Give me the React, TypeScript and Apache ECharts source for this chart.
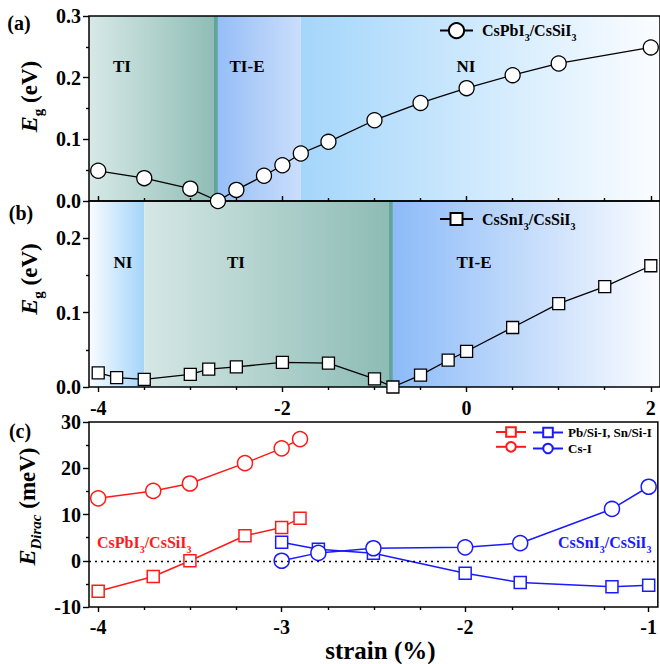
import React, { useEffect, useRef } from 'react';
import * as echarts from 'echarts';

const FONT = '"Liberation Serif", "Times New Roman", Times, serif';

// ---------- Panel (a): CsPbI3/CsSiI3 band gap ----------
const strainA = [-4, -3.5, -3, -2.7, -2.5, -2.2, -2, -1.8, -1.5, -1, -0.5, 0, 0.5, 1, 2];
const gapA = [0.049, 0.037, 0.02, 0, 0.018, 0.041, 0.058, 0.077, 0.096, 0.131, 0.159, 0.183, 0.204, 0.223, 0.249];
const phaseNamesA = ['TI', 'TI-E', 'NI'];
const phaseBoundsA = [-4.1, -2.7, -1.8, 2.1];

// ---------- Panel (b): CsSnI3/CsSiI3 band gap ----------
const strainB = [-4, -3.8, -3.5, -3, -2.8, -2.5, -2, -1.5, -1, -0.8, -0.5, -0.2, 0, 0.5, 1, 1.5, 2];
const gapB = [0.019, 0.0125, 0.0103, 0.017, 0.024, 0.027, 0.033, 0.032, 0.011, 0, 0.016, 0.036, 0.048, 0.08, 0.112, 0.135, 0.163];
const phaseNamesB = ['NI', 'TI', 'TI-E'];
const phaseBoundsB = [-4.1, -3.5, -0.8, 2.1];

// ---------- Panel (c): Dirac point energies ----------
const strainPb = [-4, -3.7, -3.5, -3.2, -3.0, -2.9];
const pbSiI = [-6.6, -3.4, 0, 5.4, 7.2, 9.2];
const pbCsI = [13.5, 15.1, 16.7, 21.1, 24.3, 26.3];
const strainSn = [-3, -2.8, -2.5, -2, -1.7, -1.2, -1];
const snSiI = [4.0, 2.5, 1.6, -2.7, -4.7, -5.6, -5.3];
const snCsI = [0, 1.7, 2.7, 2.9, 3.8, 11.2, 16.0];

// ---------- Axes ----------
const xRangeAB = [-4.1, 2.1];
const xRangeC = [-4.05, -0.95];
const xMajorAB = [-4, -2, 0, 2];
const xMinorAB = [-3.5, -3, -2.5, -1.5, -1, -0.5, 0.5, 1, 1.5];
const xMajorC = [-4, -3, -2, -1];
const xMinorC = [-3.75, -3.5, -3.25, -2.75, -2.5, -2.25, -1.75, -1.5, -1.25];
const yRangeA = [0, 0.3];
const yRangeB = [0, 0.25];
const yMajorB = [0, 0.1, 0.2];
const yMinorB = [0.05, 0.15];
const yRangeC = [-10, 30];

const nameA = 'CsPbI3/CsSiI3';
const nameB = 'CsSnI3/CsSiI3';
const nameRedSq = 'CsPbI3 Pb/Si-I';
const nameRedCi = 'CsPbI3 Cs-I';
const nameBlueSq = 'CsSnI3 Sn/Si-I';
const nameBlueCi = 'CsSnI3 Cs-I';
const legendTextC = ['Pb/Si-I, Sn/Si-I', 'Cs-I'];

// ---------- Styles ----------
const RED = '#ff1a1a';
const BLUE = '#1a1aff';
const phaseStyle: Record<string, string[]> = {
  'a-TI': ['#d7e9e7', '#8fbdb6', '#62a499'],
  'a-TI-E': ['#96bef7', '#cadefb'],
  'a-NI': ['#a4d6fb', '#fbfdff'],
  'b-NI': ['#f9fcff', '#a4d4fa'],
  'b-TI': ['#d5e7e5', '#8dbcb5', '#62a499'],
  'b-TI-E': ['#8cbbf8', '#fbfcff'],
};

const PX_PER_UNIT_AB = 572 / (xRangeAB[1] - xRangeAB[0]);

function gradient(key: string, widthUnits: number) {
  const s = phaseStyle[key];
  if (s.length === 3) {
    const edge = 1 - 3.5 / (widthUnits * PX_PER_UNIT_AB);
    return new echarts.graphic.LinearGradient(0, 0, 1, 0, [
      { offset: 0, color: s[0] },
      { offset: edge, color: s[1] },
      { offset: edge, color: s[2] },
      { offset: 1, color: s[2] },
    ]);
  }
  return new echarts.graphic.LinearGradient(0, 0, 1, 0, [
    { offset: 0, color: s[0] },
    { offset: 1, color: s[1] },
  ]);
}

function phaseAreas(panel: string, names: string[], bounds: number[]) {
  return names.map((n, i) => [
    { xAxis: bounds[i], itemStyle: { color: gradient(`${panel}-${n}`, bounds[i + 1] - bounds[i]) } },
    { xAxis: bounds[i + 1] },
  ]);
}

function chemRich(text: string) {
  const parts = text.match(/\d+|\D+/g) || [];
  return parts.map((p) => (/^\d+$/.test(p) ? `{s|${p}}` : `{n|${p}}`)).join('');
}

function richStyles(size: number, color: string, subSize: number, lh: number) {
  return {
    n: { fontFamily: FONT, fontWeight: 'bold', fontSize: size, color, fill: color },
    s: {
      fontFamily: FONT, fontWeight: 'bold', fontSize: subSize, color, fill: color,
      verticalAlign: 'bottom', lineHeight: lh,
    },
  };
}

const tickLabel = { fontFamily: FONT, fontWeight: 'bold', fontSize: 20, color: '#000' };
const tickLine = { color: '#000', width: 1.4 };

function yName(main: string, sub: string, unit: string, subItalic: boolean, shift: number) {
  return {
    name: `{e|${main}}{s|${sub}}{t| ${unit}}`,
    nameLocation: 'middle',
    nameRotate: 90,
    nameGap: 38,
    nameTextStyle: {
      fontFamily: FONT, fontWeight: 'bold', fontSize: 23, color: '#000',
      padding: [0, 0, 0, shift],
      rich: {
        e: { fontFamily: FONT, fontWeight: 'bold', fontStyle: 'italic', fontSize: 24, color: '#000' },
        s: {
          fontFamily: FONT, fontWeight: 'bold', fontStyle: subItalic ? 'italic' : 'normal',
          fontSize: 15, color: '#000', verticalAlign: 'bottom', lineHeight: 32,
        },
        t: { fontFamily: FONT, fontWeight: 'bold', fontSize: 23, color: '#000' },
      },
    },
  };
}

function buildOption(): any {
  const gridBox = { left: 89, width: 572 };
  const frame = { ...gridBox, show: true, borderColor: '#000', borderWidth: 1.5, backgroundColor: 'transparent', z: 2 };
  const noLine = { show: false, onZero: false };
  const xBase = { type: 'value', axisLine: noLine, splitLine: { show: false }, z: 2 };
  const yBase = { type: 'value', axisLine: noLine, splitLine: { show: false }, z: 2 };

  const pts = (xs: number[], ys: number[]) => xs.map((x, i) => [x, ys[i]]);

  const labelText = (text: string, x: number, y: number, size = 17, color = '#000', align = 'center') => ({
    type: 'text', x, y, z: 10, silent: true,
    style: {
      text, fill: color, fontFamily: FONT, fontWeight: 'bold', fontSize: size,
      align, verticalAlign: 'middle', textAlign: align, textVerticalAlign: 'middle',
    },
  });
  const chemText = (text: string, x: number, y: number, color: string) => ({
    type: 'text', x, y, z: 10, silent: true,
    style: {
      text: chemRich(text), fill: color, fontFamily: FONT, fontWeight: 'bold', fontSize: 16,
      align: 'left', verticalAlign: 'middle', textAlign: 'left', textVerticalAlign: 'middle',
      rich: richStyles(16, color, 10, 24),
    },
  });

  const regionLabelPosA = [[122, 66], [247, 66], [466, 66]];
  const regionLabelPosB = [[123, 262], [236, 262], [474, 262]];

  return {
    animation: false,
    backgroundColor: '#fff',
    grid: [
      { ...frame, top: 16, height: 185 },
      { ...frame, top: 201, height: 186 },
      { ...frame, top: 422, height: 185 },
      { ...gridBox, top: 16, height: 185, show: false },
      { ...gridBox, top: 201, height: 186, show: false },
      { ...gridBox, top: 422, height: 185, show: false },
    ],
    xAxis: [
      {
        ...xBase, gridIndex: 0, min: xRangeAB[0], max: xRangeAB[1],
        axisTick: { show: true, inside: true, length: 5, customValues: xMajorAB, lineStyle: tickLine },
        axisLabel: { show: false },
      },
      {
        ...xBase, gridIndex: 1, min: xRangeAB[0], max: xRangeAB[1],
        axisTick: { show: true, inside: false, length: 5, customValues: xMajorAB, lineStyle: tickLine },
        axisLabel: { ...tickLabel, margin: 11, customValues: xMajorAB },
      },
      {
        ...xBase, gridIndex: 2, min: xRangeC[0], max: xRangeC[1],
        axisTick: { show: true, inside: false, length: 5, customValues: xMajorC, lineStyle: tickLine },
        axisLabel: { ...tickLabel, margin: 10, customValues: xMajorC },
        name: 'strain (%)', nameLocation: 'middle', nameGap: 27,
        nameTextStyle: { fontFamily: FONT, fontWeight: 'bold', fontSize: 25, color: '#000', padding: [0, 0, 0, 14] },
      },
      {
        ...xBase, gridIndex: 3, min: xRangeAB[0], max: xRangeAB[1],
        axisTick: { show: true, inside: true, length: 3, customValues: xMinorAB, lineStyle: tickLine },
        axisLabel: { show: false },
      },
      {
        ...xBase, gridIndex: 4, min: xRangeAB[0], max: xRangeAB[1],
        axisTick: { show: true, inside: false, length: 3, customValues: xMinorAB, lineStyle: tickLine },
        axisLabel: { show: false },
      },
      {
        ...xBase, gridIndex: 5, min: xRangeC[0], max: xRangeC[1],
        axisTick: { show: true, inside: false, length: 3, customValues: xMinorC, lineStyle: tickLine },
        axisLabel: { show: false },
      },
    ],
    yAxis: [
      {
        ...yBase, gridIndex: 0, min: yRangeA[0], max: yRangeA[1], interval: 0.1,
        axisTick: { show: true, inside: false, length: 6, lineStyle: tickLine },
        minorTick: { show: true, splitNumber: 2, length: 3, lineStyle: tickLine },
        axisLabel: { ...tickLabel, margin: 8, formatter: (v: number) => v.toFixed(1) },
        ...yName('E', 'g', '(eV)', false, 24),
      },
      {
        ...yBase, gridIndex: 1, min: yRangeB[0], max: yRangeB[1],
        axisTick: { show: true, inside: false, length: 6, customValues: yMajorB, lineStyle: tickLine },
        axisLabel: { ...tickLabel, margin: 8, customValues: yMajorB, formatter: (v: number) => v.toFixed(1) },
        ...yName('E', 'g', '(eV)', false, 30),
      },
      {
        ...yBase, gridIndex: 2, min: yRangeC[0], max: yRangeC[1], interval: 10,
        axisTick: { show: true, inside: false, length: 6, lineStyle: tickLine },
        minorTick: { show: true, splitNumber: 2, length: 3, lineStyle: tickLine },
        axisLabel: { ...tickLabel, margin: 8 },
        ...yName('E', 'Dirac', '(meV)', true, 16),
      },
      { ...yBase, gridIndex: 3, show: false, min: 0, max: 1 },
      {
        ...yBase, gridIndex: 4, min: yRangeB[0], max: yRangeB[1],
        axisTick: { show: true, inside: false, length: 3, customValues: yMinorB, lineStyle: tickLine },
        axisLabel: { show: false },
      },
      { ...yBase, gridIndex: 5, show: false, min: 0, max: 1 },
    ],
    legend: [
      {
        data: [nameA], left: 439, top: 22, padding: 0, itemWidth: 33, itemHeight: 19,
        formatter: (n: string) => chemRich(n),
        textStyle: { color: '#000', fontFamily: FONT, fontWeight: 'bold', fontSize: 16, padding: [0, 0, 0, 4], rich: richStyles(16, '#000', 10, 24) },
      },
      {
        data: [nameB], left: 439, top: 211, padding: 0, itemWidth: 33, itemHeight: 15,
        formatter: (n: string) => chemRich(n),
        textStyle: { color: '#000', fontFamily: FONT, fontWeight: 'bold', fontSize: 16, padding: [0, 0, 0, 4], rich: richStyles(16, '#000', 10, 24) },
      },
      {
        data: [nameRedSq, nameRedCi], left: 495, top: 426, padding: 0, orient: 'vertical', itemGap: 3,
        itemWidth: 30, itemHeight: 12, formatter: () => '',
        textStyle: { fontFamily: FONT, fontWeight: 'bold', fontSize: 13 },
      },
      {
        data: [nameBlueSq, nameBlueCi], left: 532, top: 426, padding: 0, orient: 'vertical', itemGap: 3,
        itemWidth: 30, itemHeight: 12,
        formatter: (n: string) => (n === nameBlueSq ? legendTextC[0] : legendTextC[1]),
        textStyle: { color: '#000', fontFamily: FONT, fontWeight: 'bold', fontSize: 13 },
      },
    ],
    series: [
      {
        type: 'line', name: nameA, xAxisIndex: 0, yAxisIndex: 0, z: 3, clip: false,
        data: pts(strainA, gapA),
        symbol: 'circle', symbolSize: 15,
        lineStyle: { color: '#000', width: 1.3 },
        itemStyle: { color: '#fff', borderColor: '#000', borderWidth: 1.3 },
        markArea: { silent: true, data: phaseAreas('a', phaseNamesA, phaseBoundsA) },
      },
      {
        type: 'line', name: nameB, xAxisIndex: 1, yAxisIndex: 1, z: 3, clip: false,
        data: pts(strainB, gapB),
        symbol: 'rect', symbolSize: 12,
        lineStyle: { color: '#000', width: 1.3 },
        itemStyle: { color: '#fff', borderColor: '#000', borderWidth: 1.3 },
        markArea: { silent: true, data: phaseAreas('b', phaseNamesB, phaseBoundsB) },
      },
      {
        type: 'line', name: nameRedSq, xAxisIndex: 2, yAxisIndex: 2, z: 3,
        data: pts(strainPb, pbSiI),
        symbol: 'rect', symbolSize: 12,
        lineStyle: { color: RED, width: 1.5 },
        itemStyle: { color: '#fff', borderColor: RED, borderWidth: 1.5 },
        markLine: {
          silent: true, symbol: ['none', 'none'], label: { show: false },
          lineStyle: { color: '#000', width: 1.4, type: [2, 4] },
          data: [{ yAxis: 0 }],
        },
      },
      {
        type: 'line', name: nameRedCi, xAxisIndex: 2, yAxisIndex: 2, z: 3,
        data: pts(strainPb, pbCsI),
        symbol: 'circle', symbolSize: 15,
        lineStyle: { color: RED, width: 1.5 },
        itemStyle: { color: '#fff', borderColor: RED, borderWidth: 1.5 },
      },
      {
        type: 'line', name: nameBlueSq, xAxisIndex: 2, yAxisIndex: 2, z: 3,
        data: pts(strainSn, snSiI),
        symbol: 'rect', symbolSize: 12,
        lineStyle: { color: BLUE, width: 1.5 },
        itemStyle: { color: '#fff', borderColor: BLUE, borderWidth: 1.5 },
      },
      {
        type: 'line', name: nameBlueCi, xAxisIndex: 2, yAxisIndex: 2, z: 3,
        data: pts(strainSn, snCsI),
        symbol: 'circle', symbolSize: 15,
        lineStyle: { color: BLUE, width: 1.5 },
        itemStyle: { color: '#fff', borderColor: BLUE, borderWidth: 1.5 },
      },
    ],
    graphic: [
      labelText('(a)', 19, 23, 20),
      labelText('(b)', 21, 213, 20),
      labelText('(c)', 20, 431, 20),
      ...phaseNamesA.map((n, i) => labelText(n, regionLabelPosA[i][0], regionLabelPosA[i][1])),
      ...phaseNamesB.map((n, i) => labelText(n, regionLabelPosB[i][0], regionLabelPosB[i][1])),
      chemText('CsPbI3/CsSiI3', 97, 542, RED),
      chemText('CsSnI3/CsSiI3', 558, 542, BLUE),
    ],
  };
}

export default function App() {
  const ref = useRef<HTMLDivElement>(null);
  useEffect(() => {
    if (!ref.current) return;
    const chart = echarts.init(ref.current, null, { renderer: 'svg' });
    chart.setOption(buildOption());
    return () => chart.dispose();
  }, []);
  return (
    <div
      ref={ref}
      style={{ position: 'fixed', left: 0, top: 0, width: 660, height: 664, background: '#fff' }}
    />
  );
}
